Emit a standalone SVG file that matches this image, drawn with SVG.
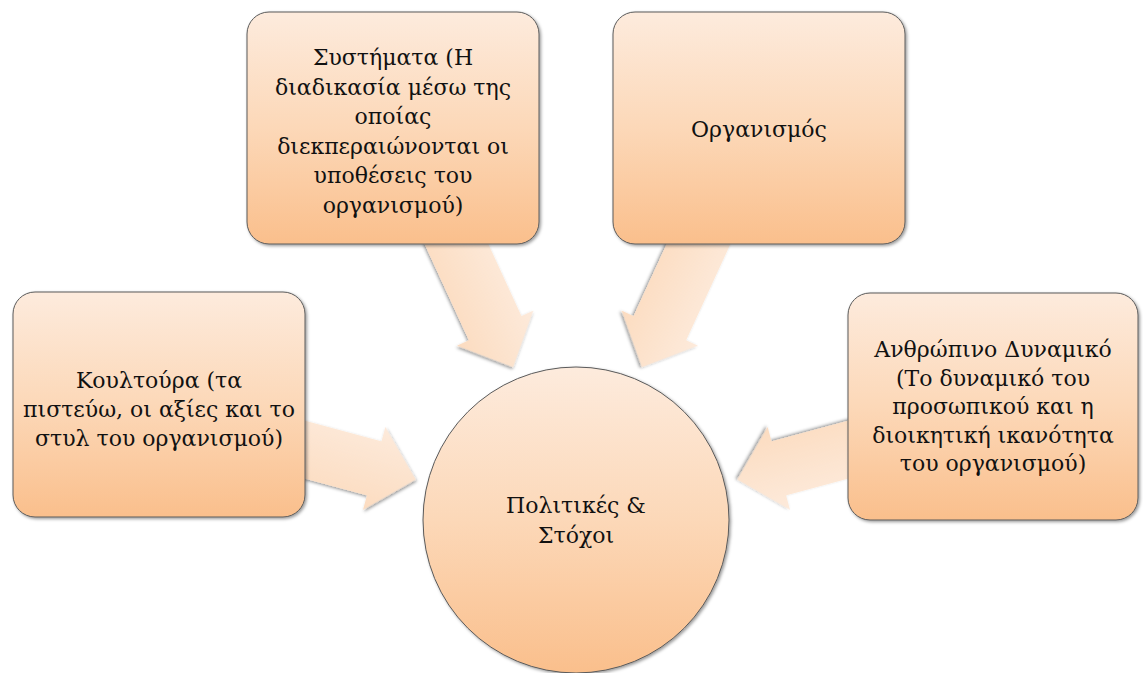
<svg xmlns="http://www.w3.org/2000/svg" width="1143" height="673" viewBox="0 0 1143 673">
<defs>
<linearGradient id="gBox" x1="0" y1="0" x2="0" y2="1">
<stop offset="0" stop-color="#FDEBDD"/>
<stop offset="0.5" stop-color="#FCD8B8"/>
<stop offset="1" stop-color="#FABF8C"/>
</linearGradient>
<linearGradient id="gArrow" x1="0" y1="0" x2="0" y2="1" gradientUnits="objectBoundingBox">
<stop offset="0" stop-color="#FDEADB"/>
<stop offset="1" stop-color="#FCDCC0"/>
</linearGradient>
<filter id="sh" x="-10%" y="-10%" width="125%" height="125%">
<feDropShadow dx="1.5" dy="1.5" stdDeviation="1.5" flood-color="#000" flood-opacity="0.4"/>
</filter>
</defs>
<style>
.box{fill:url(#gBox);stroke:#5a5a5a;stroke-width:1;filter:url(#sh)}
.arrow{fill:url(#gArrow);stroke:none;filter:url(#sh)}
.t{font-family:"DejaVu Serif","Liberation Serif",serif;font-size:22px;fill:#111;text-anchor:middle}
</style>
<rect width="1143" height="673" fill="#fff"/>
<g id="connectors">
<polygon class="arrow" transform="translate(450,230) rotate(65.3)" points="0,-29 108,-29 108,-42 151,0 108,42 108,29 0,29"/>
<polygon class="arrow" transform="translate(705,230) rotate(114.7)" points="0,-29 108,-29 108,-42 151,0 108,42 108,29 0,29"/>
<polygon class="arrow" transform="translate(295,447) rotate(15.1)" points="0,-28 82,-28 82,-43 125,0 82,43 82,28 0,28"/>
<polygon class="arrow" transform="translate(858,447) rotate(164.9)" points="0,-28 82,-28 82,-43 125,0 82,43 82,28 0,28"/>
</g>
<g id="node-systems">
<rect class="box" x="247" y="12" width="292" height="232" rx="22"/>
<text class="t" x="393" y="65">Συστήματα (Η</text>
<text class="t" x="393" y="94.5">διαδικασία μέσω της</text>
<text class="t" x="393" y="124">οποίας</text>
<text class="t" x="393" y="153.5">διεκπεραιώνονται οι</text>
<text class="t" x="393" y="183">υποθέσεις του</text>
<text class="t" x="393" y="212.5">οργανισμού)</text>
</g>
<g id="node-organismos">
<rect class="box" x="613" y="12" width="292" height="232" rx="22"/>
<text class="t" x="759" y="137">Οργανισμός</text>
</g>
<g id="node-koultoura">
<rect class="box" x="13" y="292" width="292" height="225" rx="22"/>
<text class="t" x="159" y="388">Κουλτούρα (τα</text>
<text class="t" x="159" y="417">πιστεύω, οι αξίες και το</text>
<text class="t" x="159" y="446">στυλ του οργανισμού)</text>
</g>
<g id="node-dynamiko">
<rect class="box" x="848" y="293" width="290" height="227" rx="22"/>
<text class="t" x="993" y="357">Ανθρώπινο Δυναμικό</text>
<text class="t" x="993" y="385.5">(Το δυναμικό του</text>
<text class="t" x="993" y="414">προσωπικού και η</text>
<text class="t" x="993" y="442.5">διοικητική ικανότητα</text>
<text class="t" x="993" y="471">του οργανισμού)</text>
</g>
<g id="node-politikes">
<circle class="box" cx="576" cy="520" r="153"/>
<text class="t" x="576" y="513">Πολιτικές &amp;</text>
<text class="t" x="576" y="543">Στόχοι</text>
</g>
</svg>
